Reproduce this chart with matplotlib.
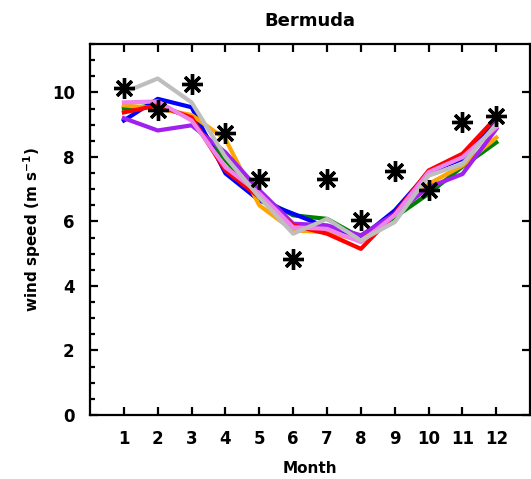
import matplotlib
matplotlib.use("Agg")
from matplotlib import pyplot as plt
from matplotlib.ticker import MultipleLocator

months = [1, 2, 3, 4, 5, 6, 7, 8, 9, 10, 11, 12]

# observed (stars)
obs = [10.15, 9.45, 10.25, 8.75, 7.32, 4.85, 7.32, 6.05, 7.56, 6.98, 9.07, 9.27]

# model runs
green = [9.5, 9.6, 9.22, 7.9, 6.75, 6.19, 6.08, 5.5, 6.13, 6.86, 7.7, 8.45]
blue = [9.13, 9.8, 9.54, 7.49, 6.65, 6.24, 5.82, 5.5, 6.34, 7.53, 7.94, 9.12]
orange = [9.6, 9.5, 9.3, 8.55, 6.5, 5.72, 5.67, 5.41, 6.2, 7.16, 7.73, 8.6]
purple = [9.2, 8.82, 8.98, 8.14, 6.97, 5.93, 5.88, 5.57, 6.24, 7.06, 7.47, 8.87]
red = [9.38, 9.6, 9.22, 7.58, 6.75, 5.88, 5.62, 5.15, 6.24, 7.58, 8.1, 9.23]
violet = [9.69, 9.72, 9.13, 7.68, 6.87, 5.82, 5.77, 5.36, 6.2, 7.53, 7.99, 8.92]
gray = [10.0, 10.43, 9.69, 8.0, 6.75, 5.62, 6.08, 5.41, 5.98, 7.42, 7.78, 9.02]

runs = [(green, "#008000"), (blue, "#0000ff"), (orange, "#ffa500"),
        (purple, "#a020f0"), (red, "#ff0000"), (violet, "#ee82ee"),
        (gray, "#bebebe")]

fig = plt.figure(figsize=(5.31, 4.79), dpi=100)
ax = fig.add_axes([0.1695, 0.1336, 0.829, 0.7745])

for vals, col in runs:
    ax.plot(months, vals, color=col, lw=3)

ax.plot(months, obs, linestyle="none", marker=(8, 2, 0), markersize=15,
        mew=2.4, color="black")

ax.set_xlim(0, 13)
ax.set_ylim(0, 11.5)
ax.set_xticks(months)
ax.set_xticklabels([str(m) for m in months])
ax.set_yticks([0, 2, 4, 6, 8, 10])
ax.yaxis.set_minor_locator(MultipleLocator(0.5))

for side in ax.spines.values():
    side.set_linewidth(1.6)

ax.tick_params(axis="both", which="major", direction="in", length=6, width=1.6,
               top=True, right=True, labelsize=12, pad=11)
ax.tick_params(axis="y", which="minor", direction="in", length=3.5, width=1.6,
               left=True, right=False)
for lab in ax.get_xticklabels() + ax.get_yticklabels():
    lab.set_fontweight("bold")

ax.set_title("Bermuda", fontsize=13, fontweight="bold", pad=13)
ax.set_xlabel("Month", fontsize=11, fontweight="bold", labelpad=9)
ax.set_ylabel("wind speed (m s$^{\\mathbf{-1}}$)", fontsize=11,
              fontweight="bold", labelpad=6)

fig.savefig("out.png", dpi=100)
